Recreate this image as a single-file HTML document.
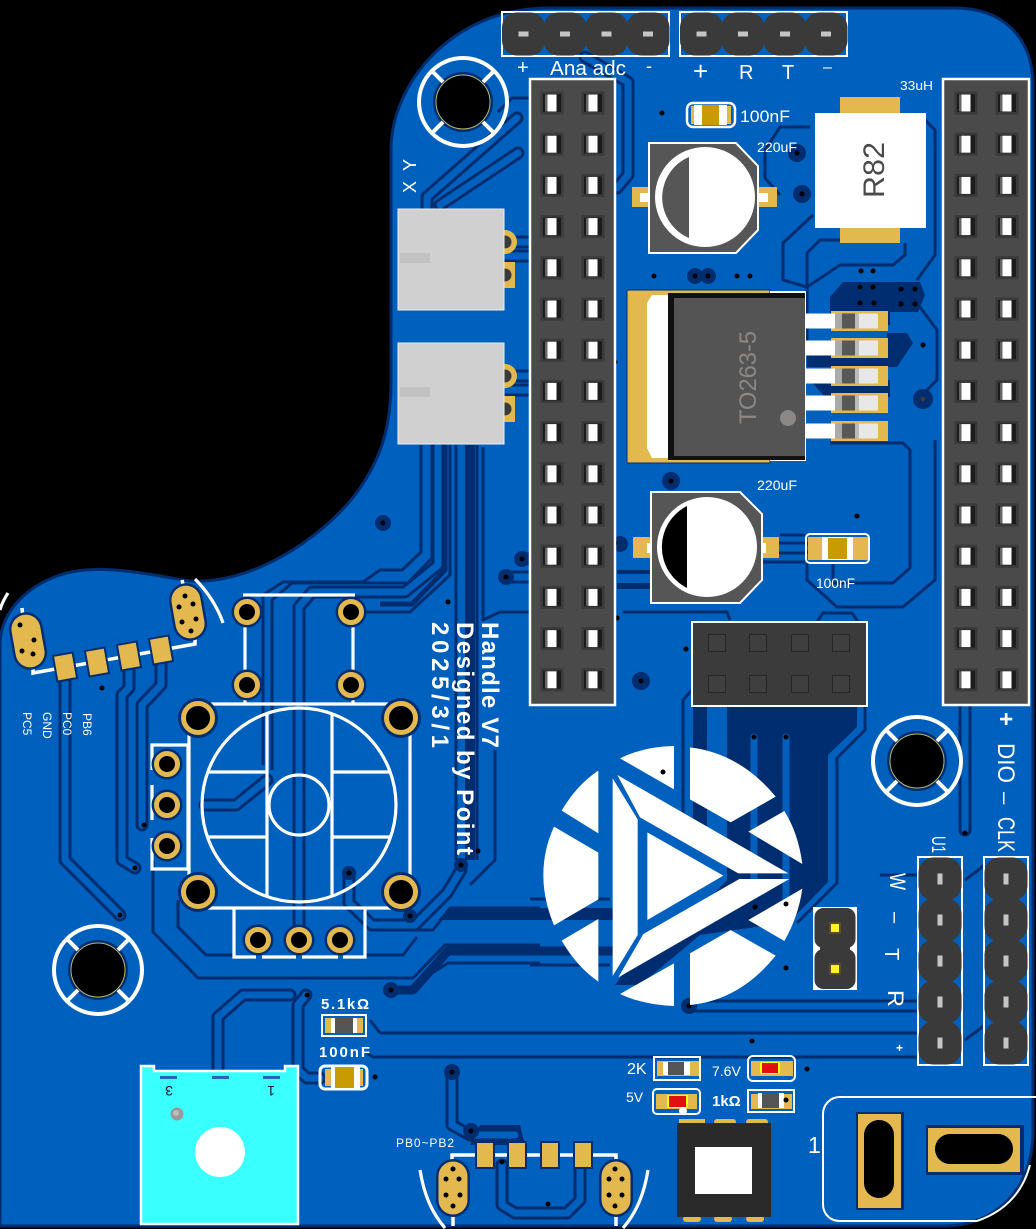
<!DOCTYPE html>
<html><head><meta charset="utf-8"><style>
html,body{margin:0;padding:0;background:#000}
svg{display:block}
text{font-family:"Liberation Sans",sans-serif;fill:#fff}
.w{fill:none;stroke:#fff;stroke-width:3.2}
.d{fill:none;stroke:#002D6F;stroke-width:3;stroke-linejoin:round}
.v{fill:#000}
</style></head><body>
<svg xmlns="http://www.w3.org/2000/svg" width="1036" height="1229" viewBox="0 0 1036 1229">
<defs>
<g id="tr" fill="none" stroke-linejoin="round" stroke-linecap="round">
<path d="M65,675V860L120,915"/>
<path d="M129,665V688L122,695V860L135,868"/>
<path d="M161,660V685L142,705V825"/>
<path d="M299,925V607L312,592H405L438,565V445"/>
<path d="M205,805H236L267,780"/>
<path d="M349,873V903L372,925H415L447,893L461,870"/>
<path d="M517,118L427,197V208"/>
<path d="M518,153L440,205"/>
<path d="M504,242H529M504,256H529M504,376H529M504,390H529"/>
<path d="M585,57L628,82V175L617,188"/>
<path d="M218,1070V1017L243,995H290"/>
<path d="M306,995L298,1005V1070L307,1078H320"/>
<path d="M452,1072V1125L470,1135H515"/>
<path d="M502,1165V1205L515,1213H567L580,1200V1168"/>
<path d="M689,1006H918"/>
<path d="M965,706V830"/>
<path d="M754,737V895M786,737V905"/>
<path d="M522,559H529M506,577H529"/>
<path d="M780,548H805"/>
</g>
<g id="pin"><rect x="-11.5" y="-11.5" width="23" height="23" fill="#3a3a3a"/><rect x="-9" y="-9" width="18" height="18" fill="#1c1c1c"/><rect x="-7" y="-8.5" width="3" height="17" fill="#666"/><rect x="-4.5" y="-8.5" width="9" height="17" fill="#fff"/></g>
<g id="row"><use href="#pin" x="0"/><use href="#pin" x="41"/></g>
<g id="col">
<use href="#row" y="0"/><use href="#row" y="41.2"/><use href="#row" y="82.4"/><use href="#row" y="123.6"/><use href="#row" y="164.8"/><use href="#row" y="206"/><use href="#row" y="247.2"/><use href="#row" y="288.4"/><use href="#row" y="329.6"/><use href="#row" y="370.8"/><use href="#row" y="412"/><use href="#row" y="453.2"/><use href="#row" y="494.4"/><use href="#row" y="535.6"/><use href="#row" y="576.8"/>
</g>
<g id="hp"><rect x="-21.5" y="-21.5" width="43" height="43" rx="15" fill="#3a3a3a"/></g>
<g id="hpin"><rect x="-5" y="-2.5" width="10" height="5" fill="#c5c5c5"/></g>
<g id="vpin"><rect x="-2.5" y="-5.5" width="5" height="11" fill="#c5c5c5"/></g>
<g id="hole"><circle r="30" fill="#002D6F"/><circle r="27" fill="#000" stroke="#b9b66a" stroke-width="1"/><circle r="44" class="w" style="stroke-width:4"/>
<path d="M-32,-32L-20,-20M32,-32L20,-20M-32,32L-20,20M32,32L20,20" class="w" style="stroke-width:4"/></g>
<g id="th"><circle r="15.5" fill="#002D6F"/><circle r="10.5" fill="#000" stroke="#E3B84F" stroke-width="5"/></g>
<g id="thb"><circle r="20" fill="#002D6F"/><circle r="14.5" fill="#000" stroke="#E3B84F" stroke-width="5"/></g>
<g id="oval"><rect x="-17" y="-29" width="34" height="58" rx="17" fill="#002D6F"/><rect x="-14.5" y="-26.5" width="29" height="53" rx="14.5" fill="#E3B84F"/></g>
<g id="lead"><rect x="831" y="-10" width="57" height="20" fill="#E3B84F"/><rect x="805" y="-7.5" width="73" height="15" fill="#e8e8e8"/><rect x="805" y="-7.5" width="30" height="15" fill="#fff"/><rect x="835" y="-7.5" width="7" height="15" fill="#aaa"/><rect x="842" y="-7.5" width="13" height="15" fill="#585858"/><rect x="855" y="-7.5" width="4" height="15" fill="#bbb"/></g>
</defs>

<rect width="1036" height="1229" fill="#000"/>
<path d="M0,645C0,610 30,585 60,575C100,562 150,575 190,581C250,585 320,540 355,495C385,455 391,420 391,380L391,150C391,85 450,10 545,8L955,8C1005,8 1033,40 1033,85L1033,1130C1033,1195 990,1226 945,1226L0,1226Z" fill="#0060BE" stroke="#002D6F" stroke-width="3"/>

<!-- dark copper zones -->
<g fill="#002D6F">
<path d="M727,706H857V727L828,755V882L796,915L770,925L700,935L640,985H615L640,950H660L727,880Z"/>
<path d="M830,297L843,282H920L925,295L918,312H890V325H830Z"/>
<path d="M887,333H907L913,343L897,367H807V347H887Z"/>
<path d="M810,380H890V397H825Z"/>
<path d="M693,706H707V840H693Z"/>
<path d="M450,908H620V920H438Z"/>
<path d="M465,445H475V860H465Z"/>
<path d="M617,570H650V574H617ZM617,583H650V589H617Z"/>
<path d="M480,1125H520L525,1145L470,1145Z"/>
</g>
<path d="M395,990H413L448,951H620" fill="none" stroke="#002D6F" stroke-width="9" stroke-linejoin="round"/>
<path d="M380,604H412L445,570V445" fill="none" stroke="#002D6F" stroke-width="5"/>
<use href="#tr" stroke="#002D6F" stroke-width="13"/>
<use href="#tr" stroke="#0060BE" stroke-width="7"/>
<path d="M754,737V895M786,737V905" stroke="#0060BE" stroke-width="6" fill="none"/>
<g class="d">
<path d="M380,1033H918M370,1020L380,1033"/><path d="M365,1052L373,1057H918"/>
<path d="M683,706V840"/>
<path d="M865,706V730L837,758V883L797,923"/>
<path d="M530,899H610M530,965H610"/>
<path d="M880,875H918M880,1033H918"/>
<path d="M965,880L985,865M965,1040L985,1025"/>
<path d="M153,860V932L198,978H413L445,945H540"/>
<path d="M413,985L448,963H540"/>
<path d="M178,900V927L206,955H235"/>
<path d="M365,955H403L417,937"/>
<path d="M370,930H433L450,908H540"/>
<path d="M421,445V552L402,570H380L363,582H283L263,595V765"/>
<path d="M432,445V558L408,583H292L272,600V770"/>
<path d="M352,612H410L450,575V445"/>
<path d="M456,445V860"/>
<path d="M483,447V620L500,612H529"/>
<path d="M495,750V860L470,885"/>
<path d="M477,445V860"/>
<path d="M529,98H512L498,112"/>
<path d="M810,127H780L765,150V178L780,195"/>
<path d="M813,215L783,243V280L807,287V345"/>
<path d="M840,240H820L807,253V287"/>
<path d="M905,243V255L893,265H840L807,287"/>
<path d="M925,120L935,130V255L917,280"/>
<path d="M920,307L937,330V380L920,397"/>
<path d="M807,563V580L837,607H903L935,580V440"/>
<path d="M833,563V583H893L910,568V450L903,443H830"/>
<path d="M623,612H697H727L730,620"/>
<path d="M817,622L823,613H852L858,622"/>
<path d="M692,690L683,700V706"/>
<path d="M780,535H805M762,562H805"/>
<path d="M883,120L885,127"/>
</g>
<g fill="#002D6F">
<circle cx="797" cy="153" r="9"/><circle cx="802" cy="194" r="9"/><circle cx="695" cy="276" r="8"/><circle cx="708" cy="276" r="8"/><circle cx="923" cy="399" r="10"/><circle cx="383" cy="523" r="8"/><circle cx="522" cy="559" r="8"/><circle cx="506" cy="577" r="8"/><circle cx="671" cy="481" r="9"/><circle cx="620" cy="544" r="8"/><circle cx="641" cy="681" r="9"/><circle cx="689" cy="1006" r="8"/><circle cx="391" cy="990" r="8"/><circle cx="452" cy="1072" r="8"/><circle cx="471" cy="1131" r="8"/><circle cx="461" cy="865" r="7"/><circle cx="410" cy="916" r="7"/><circle cx="349" cy="873" r="7"/>
</g>

<!-- via dots -->
<g class="v">
<circle cx="662" cy="113" r="2.5"/><circle cx="654" cy="276" r="2.5"/><circle cx="737" cy="276" r="2.5"/><circle cx="750" cy="276" r="2.5"/><circle cx="695" cy="276" r="2.5"/><circle cx="708" cy="276" r="2.5"/><circle cx="861" cy="271" r="2.5"/><circle cx="873" cy="271" r="2.5"/><circle cx="860" cy="287" r="2.5"/><circle cx="873" cy="287" r="2.5"/><circle cx="860" cy="303" r="2.5"/><circle cx="874" cy="303" r="2.5"/><circle cx="901" cy="289" r="2.5"/><circle cx="915" cy="289" r="2.5"/><circle cx="901" cy="304" r="2.5"/><circle cx="915" cy="304" r="2.5"/><circle cx="923" cy="345" r="2.5"/><circle cx="797" cy="153" r="2.5"/><circle cx="802" cy="194" r="2.5"/><circle cx="615" cy="362" r="2.5"/><circle cx="615" cy="543" r="2.5"/><circle cx="383" cy="523" r="2.5"/><circle cx="522" cy="559" r="2.5"/><circle cx="506" cy="577" r="2.5"/><circle cx="448" cy="602" r="2.5"/><circle cx="102" cy="688" r="2.5"/><circle cx="144" cy="825" r="2.5"/><circle cx="135" cy="868" r="2.5"/><circle cx="120" cy="915" r="2.5"/><circle cx="349" cy="873" r="2.5"/><circle cx="410" cy="916" r="2.5"/><circle cx="663" cy="772" r="2.5"/><circle cx="786" cy="904" r="2.5"/><circle cx="786" cy="968" r="2.5"/><circle cx="754" cy="737" r="2.5"/><circle cx="786" cy="737" r="2.5"/><circle cx="755" cy="907" r="2.5"/><circle cx="689" cy="1006" r="2.5"/><circle cx="752" cy="1041" r="2.5"/><circle cx="807" cy="1069" r="2.5"/><circle cx="786" cy="1100" r="2.5"/><circle cx="307" cy="995" r="2.5"/><circle cx="391" cy="990" r="2.5"/><circle cx="375" cy="1077" r="2.5"/><circle cx="452" cy="1072" r="2.5"/><circle cx="471" cy="1131" r="2.5"/><circle cx="502" cy="1162" r="2.5"/><circle cx="548" cy="1204" r="2.5"/><circle cx="965" cy="833" r="2.5"/><circle cx="478" cy="851" r="2.5"/><circle cx="461" cy="865" r="2.5"/><circle cx="671" cy="481" r="2.5"/><circle cx="641" cy="681" r="2.5"/><circle cx="617" cy="618" r="2.5"/><circle cx="686" cy="649" r="2.5"/><circle cx="857" cy="516" r="2.5"/>
</g>
<circle cx="923" cy="399" r="2.5" fill="#3a3a3a"/>

<!-- top headers -->
<path d="M502,12H669V56H502ZM680,12H847V56H680Z" fill="none" stroke="#fff" stroke-width="2"/>
<use href="#hp" x="523.5" y="34"/><use href="#hp" x="565" y="34"/><use href="#hp" x="606.5" y="34"/><use href="#hp" x="648" y="34"/>
<use href="#hp" x="701.5" y="34"/><use href="#hp" x="743" y="34"/><use href="#hp" x="785" y="34"/><use href="#hp" x="826" y="34"/>
<use href="#hpin" x="523.5" y="34"/><use href="#hpin" x="565" y="34"/><use href="#hpin" x="606.5" y="34"/><use href="#hpin" x="648" y="34"/>
<use href="#hpin" x="701.5" y="34"/><use href="#hpin" x="743" y="34"/><use href="#hpin" x="785" y="34"/><use href="#hpin" x="826" y="34"/>

<!-- big headers -->
<rect x="530" y="79" width="85" height="626" fill="#4a4a4a" stroke="#fff" stroke-width="2.5"/>
<rect x="943" y="79" width="86" height="626" fill="#4a4a4a" stroke="#fff" stroke-width="2.5"/>
<use href="#col" x="552" y="103"/><use href="#col" x="966" y="103"/>

<!-- 2x4 header -->
<rect x="692" y="622" width="175" height="84" fill="#3b3b3b" stroke="#fff" stroke-width="2"/>
<g fill="#3f3f3f" stroke="#262626" stroke-width="1">
<rect x="708.5" y="634.5" width="17" height="17"/><rect x="749.5" y="634.5" width="17" height="17"/><rect x="791.5" y="634.5" width="17" height="17"/><rect x="832.5" y="634.5" width="17" height="17"/>
<rect x="708.5" y="675.5" width="17" height="17"/><rect x="749.5" y="675.5" width="17" height="17"/><rect x="791.5" y="675.5" width="17" height="17"/><rect x="832.5" y="675.5" width="17" height="17"/>
</g>

<!-- JST -->
<circle cx="505" cy="242" r="12" fill="#E3B84F"/><circle cx="505" cy="242" r="6.5" fill="#3a3a3a"/>
<rect x="497" y="262" width="18" height="26" fill="#E3B84F"/><circle cx="505" cy="275" r="6.5" fill="#3a3a3a"/>
<circle cx="505" cy="376" r="12" fill="#E3B84F"/><circle cx="505" cy="376" r="6.5" fill="#3a3a3a"/>
<rect x="497" y="396" width="18" height="26" fill="#E3B84F"/><circle cx="505" cy="409" r="6.5" fill="#3a3a3a"/>
<rect x="398" y="209" width="106" height="101" fill="#d0d0d0" stroke="#eee"/>
<rect x="398" y="343" width="106" height="101" fill="#d0d0d0" stroke="#eee"/>
<rect x="400" y="253" width="30" height="10" fill="#c2c2c2"/><rect x="400" y="387" width="30" height="10" fill="#c2c2c2"/>

<!-- mounting holes -->
<use href="#hole" x="463" y="102"/><use href="#hole" x="917" y="761"/><use href="#hole" x="98" y="970"/>

<!-- inductor -->
<rect x="840" y="97" width="60" height="146" fill="#E3B84F"/>
<rect x="815" y="113" width="111" height="115" fill="#fff"/>
<text transform="translate(884,198) rotate(-90)" font-size="30" style="fill:#4a4a4a" textLength="56" lengthAdjust="spacingAndGlyphs">R82</text>

<!-- cap 100nF top -->
<rect x="687" y="103" width="48" height="24" rx="6" fill="none" stroke="#fff" stroke-width="2.5"/>
<rect x="691" y="106" width="40" height="18" fill="#E3B84F"/><rect x="694" y="105" width="8" height="20" fill="#fff"/><rect x="719" y="105" width="8" height="20" fill="#fff"/><rect x="702" y="105" width="17" height="20" fill="#C89B00"/>

<!-- cap 220uF -->
<rect x="632" y="187" width="20" height="20" fill="#E3B84F"/><rect x="640" y="193" width="12" height="9" fill="#fff"/><rect x="756" y="187" width="21" height="20" fill="#E3B84F"/><rect x="756" y="193" width="12" height="9" fill="#fff"/>
<path d="M649,143H736L758,166V230L736,253H649Z" fill="#565656" stroke="#fff" stroke-width="2"/>
<circle cx="705" cy="197" r="50" fill="#fff"/>
<path d="M689,157V238A44,44 0 0 1 689,157Z" fill="#565656"/>
<rect x="633" y="537" width="20" height="21" fill="#E3B84F"/><rect x="647" y="543" width="6" height="10" fill="#fff"/><rect x="760" y="537" width="19" height="21" fill="#E3B84F"/><rect x="760" y="543" width="6" height="10" fill="#fff"/>
<path d="M651,492H740L762,514V580L740,603H651Z" fill="#565656" stroke="#fff" stroke-width="2"/>
<circle cx="707" cy="547" r="50" fill="#fff"/>
<path d="M687,506V588A46,46 0 0 1 687,506Z" fill="#000"/>

<!-- cap 100nF 2 -->
<rect x="806" y="534" width="63" height="29" rx="4" fill="none" stroke="#fff" stroke-width="2"/>
<rect x="808" y="537" width="60" height="23" fill="#E3B84F"/><rect x="822" y="537" width="31" height="23" fill="#fff"/><rect x="828" y="538" width="19" height="21" fill="#C89B00"/>

<!-- TO263 -->
<rect x="627" y="290" width="143" height="173" fill="#E3B84F" stroke="#002D6F" stroke-width="1"/>
<path d="M770,292H805V460H770" fill="none" stroke="#fff" stroke-width="2"/>
<path d="M652,295H668V458H652L647,448V303Z" fill="#fff"/>
<rect x="668" y="293" width="137" height="167" fill="#111"/>
<rect x="674" y="298" width="131" height="158" fill="#545454"/>
<use href="#lead" y="321"/><use href="#lead" y="348"/><use href="#lead" y="376"/><use href="#lead" y="403"/><use href="#lead" y="431"/>
<circle cx="788" cy="418" r="8" fill="#8c8885"/>
<text transform="translate(756,424) rotate(-90)" font-size="24" style="fill:#8c8885" textLength="93" lengthAdjust="spacingAndGlyphs">TO263-5</text>

<!-- joystick -->
<g class="w">
<circle cx="299" cy="805" r="97"/><circle cx="299" cy="805" r="30"/>
<path d="M267,713V897M332,713V897M208,772H267M332,772H390M208,837H267M332,837H390"/>
<path d="M211,704H388M208,908H391M189,735V875M410,735V875"/>
<path d="M243,595H355M245,627V670M353,627V670M245,700V704M353,700V704"/>
<path d="M188,745H152V770M152,785V820M152,838V869H188M188,745V870"/>
<path d="M234,908V957H256M262,957H296M302,957H338M343,957H365V908"/>
</g>
<use href="#thb" x="198" y="718"/><use href="#thb" x="401" y="718"/><use href="#thb" x="198" y="892"/><use href="#thb" x="401" y="892"/>
<use href="#th" x="247" y="612"/><use href="#th" x="351" y="612"/><use href="#th" x="247" y="685"/><use href="#th" x="351" y="685"/>
<use href="#th" x="167" y="764"/><use href="#th" x="167" y="805"/><use href="#th" x="167" y="846"/>
<use href="#th" x="258" y="940"/><use href="#th" x="299" y="940"/><use href="#th" x="340" y="940"/>

<!-- SMD connector top-left -->
<path d="M22,608L23,618M182,580L184,588M33,668V673L195,644V637" class="w" style="stroke-width:3.5"/>
<path d="M195,579C208,592 218,608 223,623M0,610C2,602 5,598 8,593" class="w"/>
<g transform="translate(28,641) rotate(-10)"><use href="#oval"/></g>
<g transform="translate(188,612) rotate(-10)"><use href="#oval"/></g>
<g fill="#E3B84F" stroke="#002D6F" stroke-width="2">
<rect x="-10" y="-13" width="20" height="26" transform="translate(65,667) rotate(-10)"/>
<rect x="-10" y="-13" width="20" height="26" transform="translate(97,662) rotate(-10)"/>
<rect x="-10" y="-13" width="20" height="26" transform="translate(129,656) rotate(-10)"/>
<rect x="-10" y="-13" width="20" height="26" transform="translate(161,650) rotate(-10)"/>
</g>
<g class="v">
<circle cx="20" cy="625" r="2.5"/><circle cx="34" cy="640" r="2.5"/><circle cx="22" cy="651" r="2.5"/><circle cx="33" cy="654" r="2.5"/>
<circle cx="185" cy="596" r="2.5"/><circle cx="193" cy="604" r="2.5"/><circle cx="179" cy="607" r="2.5"/><circle cx="196" cy="619" r="2.5"/><circle cx="182" cy="622" r="2.5"/><circle cx="191" cy="631" r="2.5"/>
</g>
<g font-size="12">
<text transform="translate(83,713) rotate(90)">PB6</text>
<text transform="translate(63,712) rotate(90)">PC0</text>
<text transform="translate(43,712) rotate(90)">GND</text>
<text transform="translate(23,712) rotate(90)">PC5</text>
</g>

<!-- white text rotated -->
<g font-weight="bold" font-size="24">
<text transform="translate(482,622) rotate(90)" textLength="126" lengthAdjust="spacing">Handle V7</text>
<text transform="translate(457,622) rotate(90)" textLength="233" lengthAdjust="spacing">Designed by Point</text>
<text transform="translate(432,622) rotate(90)" textLength="126" lengthAdjust="spacing">2025/3/1</text>
</g>

<!-- logo -->
<g transform="translate(530,700) scale(0.33333)" fill="#fff">
<path d="M270,175Q340,140 432,138L432,268Z"/>
<path d="M480,142Q630,160 737,290L602,367L480,298Z"/>
<path d="M655,395L763,333Q805,400 817,492Z"/>
<path d="M655,660L817,566Q805,650 763,723Z"/>
<path d="M480,760L602,690L737,767Q630,900 480,915Z"/>
<path d="M270,882L432,790V918Q340,915 270,882Z"/>
<path d="M95,722L205,657V845Q140,800 95,722Z"/>
<path d="M72,380L205,458V598L72,676Q40,600 40,525Q40,450 72,380Z"/>
<path d="M95,332Q140,255 205,212V400Z"/>
<path d="M352,397L580,527L352,660Z"/>
<path d="M248,235L323,358V705L248,828Z"/>
<path d="M262,225L775,520H625L330,352Z"/>
<path d="M265,832L340,702L628,537H778Z"/>
</g>
<circle cx="663" cy="772" r="2.5" fill="#000"/><circle cx="786" cy="904" r="2.5" fill="#000"/>

<!-- 2-pin header -->
<rect x="813" y="907" width="44" height="83" fill="#fff"/>
<rect x="814.5" y="908" width="41" height="40" rx="9" fill="#3a3a3a"/><rect x="814.5" y="949" width="41" height="40" rx="9" fill="#3a3a3a"/><rect x="820" y="940" width="30" height="18" fill="#3a3a3a"/>
<rect x="829" y="922" width="12" height="12" fill="#5a4d20"/><rect x="831" y="924" width="8" height="8" fill="#FFF22A"/>
<rect x="829" y="963" width="12" height="12" fill="#5a4d20"/><rect x="831" y="965" width="8" height="8" fill="#FFF22A"/>

<!-- U1 headers -->
<rect x="918" y="857" width="44" height="208" fill="none" stroke="#fff" stroke-width="2"/>
<rect x="984" y="857" width="44" height="208" fill="none" stroke="#fff" stroke-width="2"/>
<use href="#hp" x="940" y="879"/><use href="#hp" x="940" y="920"/><use href="#hp" x="940" y="961"/><use href="#hp" x="940" y="1002"/><use href="#hp" x="940" y="1043"/>
<use href="#hp" x="1006" y="879"/><use href="#hp" x="1006" y="920"/><use href="#hp" x="1006" y="961"/><use href="#hp" x="1006" y="1002"/><use href="#hp" x="1006" y="1043"/>
<use href="#vpin" x="940" y="879"/><use href="#vpin" x="940" y="920"/><use href="#vpin" x="940" y="961"/><use href="#vpin" x="940" y="1002"/><use href="#vpin" x="940" y="1043"/>
<use href="#vpin" x="1006" y="879"/><use href="#vpin" x="1006" y="920"/><use href="#vpin" x="1006" y="961"/><use href="#vpin" x="1006" y="1002"/><use href="#vpin" x="1006" y="1043"/>

<!-- small comps -->
<g fill="none" stroke="#fff" stroke-width="2">
<rect x="654" y="1057" width="46" height="23"/><rect x="653" y="1089" width="47" height="25" rx="4"/><rect x="748" y="1056" width="47" height="25" rx="5"/><rect x="748" y="1090" width="46" height="22"/>
<rect x="322" y="1015" width="44" height="21"/>
</g>
<rect x="320" y="1066" width="47" height="23" rx="5" fill="none" stroke="#fff" stroke-width="3"/>
<g fill="#E3B84F">
<rect x="657" y="1061" width="42" height="15"/><rect x="656" y="1094" width="41" height="15"/><rect x="751" y="1061" width="42" height="15"/><rect x="751" y="1094" width="41" height="15"/><rect x="325" y="1018" width="38" height="15"/><rect x="325" y="1069" width="38" height="17"/>
</g>
<rect x="663" y="1062" width="27" height="13" fill="#fff"/><rect x="668" y="1062" width="16" height="13" fill="#555"/>
<rect x="758" y="1093" width="26" height="15" fill="#fff"/><rect x="762" y="1093" width="17" height="15" fill="#555"/>
<rect x="331" y="1018" width="26" height="15" fill="#fff"/><rect x="335" y="1018" width="18" height="15" fill="#555"/>
<rect x="331" y="1067" width="29" height="21" fill="#fff"/><rect x="335" y="1067" width="19" height="21" fill="#C89B00"/>
<rect x="667" y="1095" width="21" height="13" fill="#ff0"/><rect x="669" y="1096" width="17" height="11" fill="#E01010"/>
<rect x="760" y="1062" width="20" height="12" fill="#ff0"/><rect x="762" y="1063" width="16" height="10" fill="#E01010"/>
<circle cx="683" cy="1111" r="4" fill="#fff"/><circle cx="786" cy="1100" r="2.5" fill="#000"/>

<!-- switch IC -->
<g fill="#E3B84F"><rect x="679" y="1119" width="26" height="6"/><rect x="714" y="1119" width="22" height="6" rx="3"/><rect x="746" y="1119" width="22" height="6" rx="3"/><rect x="683" y="1216" width="18" height="6" rx="3"/><rect x="714" y="1216" width="18" height="6" rx="3"/><rect x="746" y="1216" width="18" height="6" rx="3"/></g>
<rect x="677" y="1123" width="94" height="94" fill="#2a2a2a"/>
<rect x="695" y="1147" width="57" height="47" fill="#fff"/>

<!-- cyan connector -->
<path d="M141,1066H154V1071H285V1066H298V1224H141Z" fill="#3AFFFF" stroke="#fff" stroke-width="2.5"/>
<g fill="#2a62c0"><rect x="160" y="1076" width="17" height="3"/><rect x="212" y="1076" width="17" height="3"/><rect x="263" y="1076" width="17" height="3"/></g>
<circle cx="220" cy="1152" r="25" fill="#fff"/>
<circle cx="177" cy="1114" r="6.5" fill="#9a9a9a"/><circle cx="176" cy="1113" r="3" fill="#bdbdbd"/>
<text transform="translate(173,1086) rotate(180)" font-size="14" style="fill:#1a1a1a">3</text>
<text transform="translate(275,1086) rotate(180)" font-size="14" style="fill:#1a1a1a">1</text>

<!-- bottom connector -->
<path d="M452,1164V1155H616V1164M453,1216V1226M616,1216V1226" class="w" style="stroke-width:3.5"/>
<path d="M420,1170C424,1195 432,1213 445,1228M648,1170C644,1195 636,1213 623,1228" class="w"/>
<use href="#oval" x="453" y="1188"/><use href="#oval" x="616" y="1188"/>
<g fill="#E3B84F" stroke="#002D6F" stroke-width="2">
<rect x="476" y="1142" width="18" height="26"/><rect x="508" y="1142" width="18" height="26"/><rect x="541" y="1142" width="18" height="26"/><rect x="574" y="1142" width="18" height="26"/>
</g>
<g class="v">
<circle cx="453" cy="1169" r="2.5"/><circle cx="446" cy="1179" r="2.5"/><circle cx="459" cy="1179" r="2.5"/><circle cx="446" cy="1195" r="2.5"/><circle cx="460" cy="1195" r="2.5"/><circle cx="453" cy="1206" r="2.5"/>
<circle cx="615" cy="1169" r="2.5"/><circle cx="609" cy="1179" r="2.5"/><circle cx="622" cy="1179" r="2.5"/><circle cx="609" cy="1195" r="2.5"/><circle cx="622" cy="1195" r="2.5"/><circle cx="615" cy="1206" r="2.5"/>
</g>

<!-- power jack -->
<path d="M1036,1097H840C830,1097 823,1105 823,1114V1204C823,1214 830,1221 840,1221H977" fill="none" stroke="#fff" stroke-width="2"/>
<path d="M977,1221C1003,1212 1022,1195 1030,1165" fill="none" stroke="#fff" stroke-width="2"/>
<rect x="856" y="1112" width="48" height="98" fill="#002D6F"/><rect x="926" y="1125" width="98" height="50" fill="#002D6F"/>
<rect x="858" y="1114" width="43" height="94" fill="#E3B84F"/><rect x="928" y="1128" width="92" height="44" fill="#E3B84F"/>
<rect x="864" y="1120" width="30" height="78" rx="15" fill="#000"/><rect x="935" y="1134" width="78" height="30" rx="15" fill="#000"/>

<!-- labels -->
<g font-size="14">
<text x="517" y="74" font-size="20">+</text>
<text x="550" y="75" font-size="20" textLength="76" lengthAdjust="spacingAndGlyphs">Ana adc</text>
<text x="646" y="72" font-size="18">-</text>
<text x="693" y="80" font-size="26">+</text>
<text x="739" y="79" font-size="20">R</text>
<text x="782" y="79" font-size="20">T</text>
<text x="823" y="72" font-size="16">–</text>
<text transform="translate(416,193) rotate(-90)" font-size="18" textLength="34" lengthAdjust="spacing">X Y</text>
<text x="900" y="90" font-size="13" textLength="33" lengthAdjust="spacingAndGlyphs">33uH</text>
<text x="740" y="122" font-size="17" textLength="50" lengthAdjust="spacingAndGlyphs">100nF</text>
<text x="757" y="152" font-size="14" textLength="40" lengthAdjust="spacingAndGlyphs">220uF</text>
<text x="757" y="490" font-size="14" textLength="40" lengthAdjust="spacingAndGlyphs">220uF</text>
<text x="816" y="588" font-size="14" textLength="39" lengthAdjust="spacingAndGlyphs">100nF</text>
<text transform="translate(998,712) rotate(90)" font-size="24" font-weight="bold">+</text>
<text transform="translate(998,743) rotate(90)" font-size="24" textLength="40" lengthAdjust="spacingAndGlyphs">DIO</text>
<text transform="translate(998,792) rotate(90)" font-size="22">–</text>
<text transform="translate(998,817) rotate(90)" font-size="24" textLength="35" lengthAdjust="spacingAndGlyphs">CLK</text>
<text transform="translate(932,836) rotate(90)" font-size="19" textLength="17" lengthAdjust="spacingAndGlyphs">U1</text>
<text transform="translate(890,873) rotate(90)" font-size="22" textLength="17" lengthAdjust="spacingAndGlyphs">W</text>
<text transform="translate(889,912) rotate(90)" font-size="20">–</text>
<text transform="translate(885,948) rotate(90)" font-size="20">T</text>
<text transform="translate(888,990) rotate(90)" font-size="22" textLength="17" lengthAdjust="spacingAndGlyphs">R</text>
<text x="896" y="1052" font-size="12" font-weight="bold">+</text>
<text x="627" y="1074" font-size="16">2K</text>
<text x="626" y="1102" font-size="14">5V</text>
<text x="712" y="1076" font-size="14">7.6V</text>
<text x="712" y="1106" font-size="15" font-weight="bold">1kΩ</text>
<text x="808" y="1153" font-size="23">1</text>
<text x="396" y="1147" font-size="12" textLength="58" lengthAdjust="spacing">PB0~PB2</text>
<text x="321" y="1009" font-size="15" font-weight="bold" textLength="48" lengthAdjust="spacing">5.1kΩ</text>
<text x="319" y="1057" font-size="15" font-weight="bold" textLength="51" lengthAdjust="spacing">100nF</text>
</g>
</svg>
</body></html>
